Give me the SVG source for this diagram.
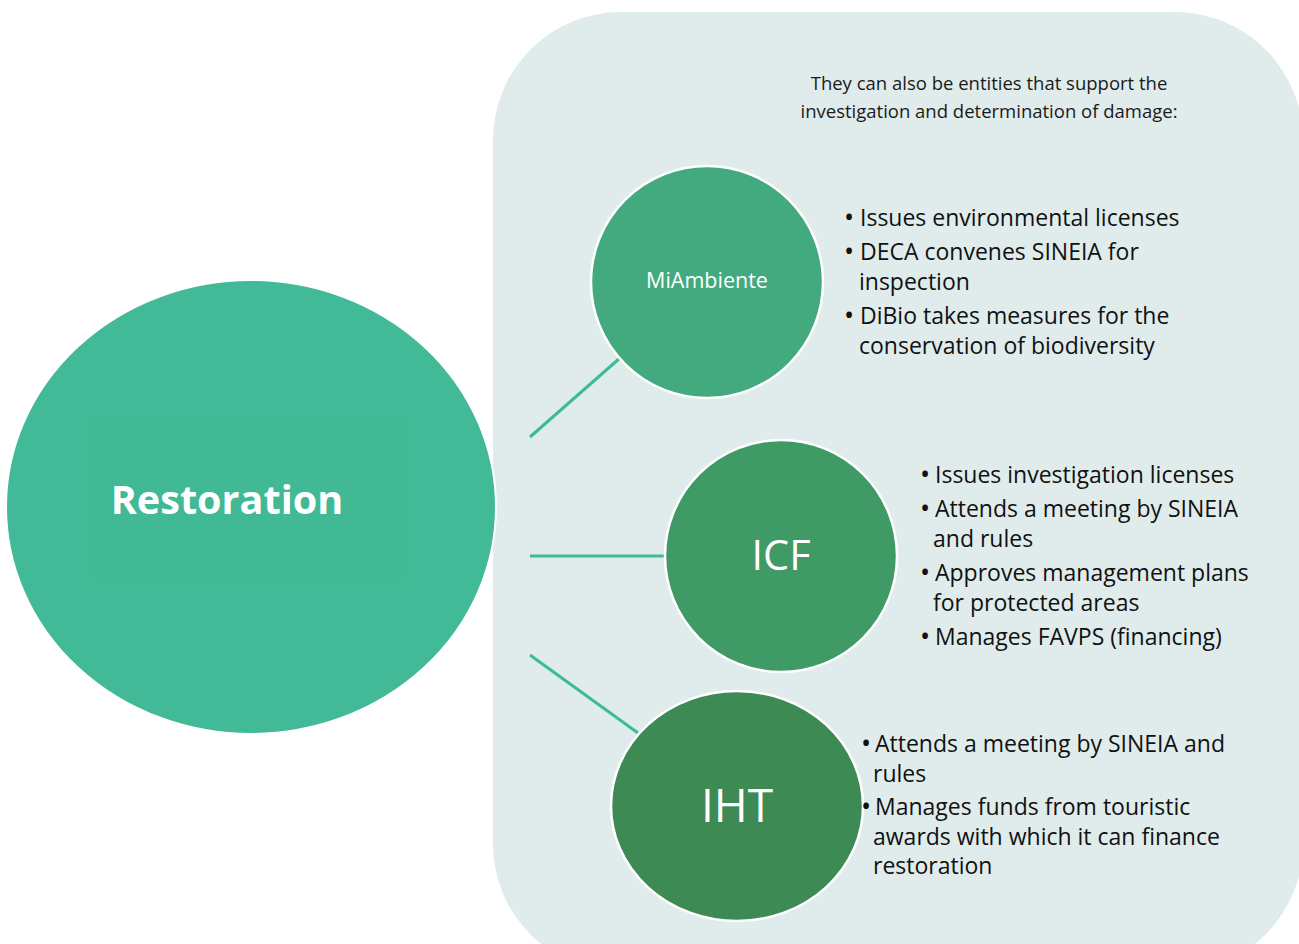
<svg xmlns="http://www.w3.org/2000/svg" width="1299" height="944" viewBox="0 0 1299 944">
  <style>
    .panel { fill: #E0ECEB; }
    .hub { fill: #43BA97; stroke: #FFFFFF; stroke-width: 2; }
    .node { stroke: #FFFFFF; stroke-width: 2.5; }
    .link { stroke: #3DBB94; stroke-width: 3; fill: none; }
    .lbl { font-family: "Open Sans", "Noto Sans", sans-serif; fill: #FFFFFF; text-anchor: middle; }
    .note { font-family: "Open Sans", "Noto Sans", sans-serif; font-size: 18.5px; fill: #1A1A1A; text-anchor: middle; }
    .bul { font-family: "Open Sans", "Noto Sans", sans-serif; font-size: 23px; fill: #111111; }
    .dot { font-family: "Open Sans", "Noto Sans", sans-serif; font-size: 27px; fill: #111111; }
  </style>

  <!-- background panel -->
  <rect class="panel" x="493" y="12" width="810" height="960" rx="128" ry="128"/>

  <!-- central hub -->
  <g id="restoration">
    <ellipse class="hub" cx="251" cy="507" rx="245" ry="227"/>
    <rect x="93" y="415" width="310" height="163" fill="#40B893" opacity="0.35"/>
    <text class="lbl" x="227" y="514" font-size="39.6" font-weight="bold">Restoration</text>
  </g>

  <!-- connectors -->
  <g id="connectors">
    <line class="link" x1="530" y1="437" x2="620" y2="358"/>
    <line class="link" x1="530" y1="556" x2="665" y2="556"/>
    <line class="link" x1="530" y1="655" x2="638" y2="733"/>
  </g>

  <!-- note -->
  <g id="note">
    <text class="note" x="989" y="90">They can also be entities that support the</text>
    <text class="note" x="989" y="118">investigation and determination of damage:</text>
  </g>

  <!-- MiAmbiente -->
  <g id="miambiente">
    <circle class="node" cx="707" cy="282" r="116" fill="#42AA7E"/>
    <text class="lbl" x="707" y="288" font-size="21.5">MiAmbiente</text>
    <text class="dot" x="844" y="227">•</text>
    <text class="dot" x="844" y="261">•</text>
    <text class="dot" x="844" y="325">•</text>
    <text class="bul">
      <tspan x="860" y="226">Issues environmental licenses</tspan>
      <tspan x="860" y="260">DECA convenes SINEIA for</tspan>
      <tspan x="859" y="290">inspection</tspan>
      <tspan x="860" y="324">DiBio takes measures for the</tspan>
      <tspan x="859" y="354">conservation of biodiversity</tspan>
    </text>
  </g>

  <!-- ICF -->
  <g id="icf">
    <circle class="node" cx="781" cy="556" r="116" fill="#409A66"/>
    <text class="lbl" x="781" y="570" font-size="41.5">ICF</text>
    <text class="dot" x="920" y="484">•</text>
    <text class="dot" x="920" y="518">•</text>
    <text class="dot" x="920" y="582">•</text>
    <text class="dot" x="920" y="646">•</text>
    <text class="bul">
      <tspan x="935" y="483">Issues investigation licenses</tspan>
      <tspan x="935" y="517">Attends a meeting by SINEIA</tspan>
      <tspan x="933" y="547">and rules</tspan>
      <tspan x="935" y="581">Approves management plans</tspan>
      <tspan x="933" y="611">for protected areas</tspan>
      <tspan x="935" y="645">Manages FAVPS (financing)</tspan>
    </text>
  </g>

  <!-- IHT -->
  <g id="iht">
    <ellipse class="node" cx="737" cy="806" rx="126" ry="115" fill="#3E8A55"/>
    <text class="lbl" x="737" y="822" font-size="46">IHT</text>
    <text class="dot" x="861" y="753">•</text>
    <text class="dot" x="861" y="816">•</text>
    <text class="bul">
      <tspan x="875" y="752">Attends a meeting by SINEIA and</tspan>
      <tspan x="873" y="782">rules</tspan>
      <tspan x="875" y="815">Manages funds from touristic</tspan>
      <tspan x="873" y="844.5">awards with which it can finance</tspan>
      <tspan x="873" y="874">restoration</tspan>
    </text>
  </g>
</svg>
